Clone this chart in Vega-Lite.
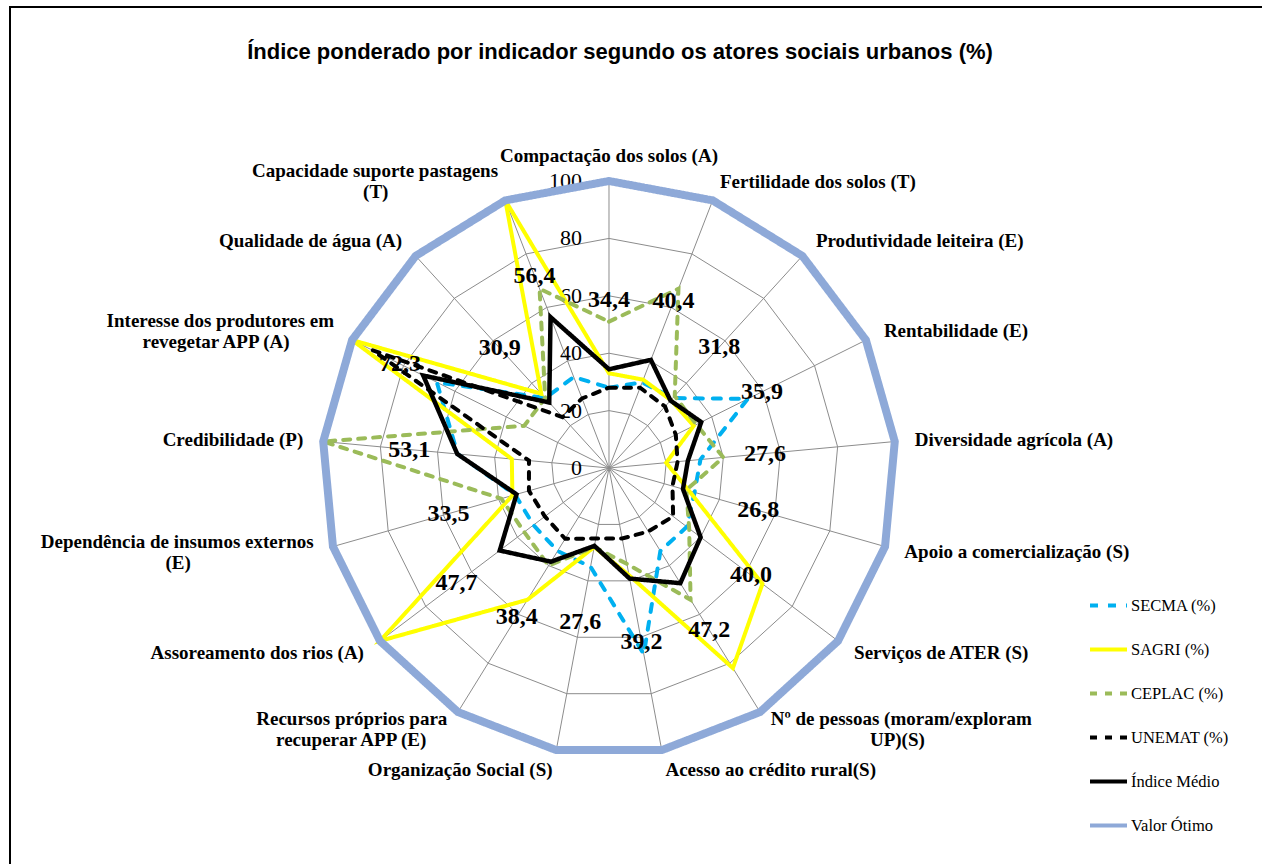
{
"$schema":"https://vega.github.io/schema/vega-lite/v6.json",
"width":1256,"height":861,
"autosize":{"type":"none"},
"padding":{"left":10,"top":7,"right":-4,"bottom":-4},
"background":"#ffffff",
"config":{"view":{"stroke":"#000000","strokeWidth":2}},
"title":{"text":"Índice ponderado por indicador segundo os atores sociais urbanos (%)","font":"Liberation Sans","fontSize":22,"fontWeight":"bold","color":"#000000","anchor":"middle","frame":"group","offset":0,"baseline":"alphabetic","dx":-18,"dy":74},
"datasets":{
"cats":[
{"i":0,"cat1":"Compactação dos solos (A)","cat2":"","SECMA":28,"SAGRI":33,"CEPLAC":51,"UNEMAT":28,"Medio":34.4,"Otimo":100},
{"i":1,"cat1":"Fertilidade dos solos (T)","cat2":"","SECMA":32,"SAGRI":33,"CEPLAC":67,"UNEMAT":30,"Medio":40.4,"Otimo":100},
{"i":2,"cat1":"Produtividade leiteira (E)","cat2":"","SECMA":33,"SAGRI":32,"CEPLAC":34,"UNEMAT":29,"Medio":31.8,"Otimo":100},
{"i":3,"cat1":"Rentabilidade (E)","cat2":"","SECMA":54,"SAGRI":33,"CEPLAC":34,"UNEMAT":26,"Medio":35.9,"Otimo":100},
{"i":4,"cat1":"Diversidade agrícola (A)","cat2":"","SECMA":32,"SAGRI":20,"CEPLAC":40,"UNEMAT":24,"Medio":27.6,"Otimo":100},
{"i":5,"cat1":"Apoio a comercialização (S)","cat2":"","SECMA":31,"SAGRI":29,"CEPLAC":28,"UNEMAT":23,"Medio":26.8,"Otimo":100},
{"i":6,"cat1":"Serviços de ATER (S)","cat2":"","SECMA":34,"SAGRI":67,"CEPLAC":35,"UNEMAT":28,"Medio":40.0,"Otimo":100},
{"i":7,"cat1":"Nº de pessoas (moram/exploram","cat2":"UP)(S)","SECMA":34,"SAGRI":82,"CEPLAC":54,"UNEMAT":26,"Medio":47.2,"Otimo":100},
{"i":8,"cat1":"Acesso ao crédito rural(S)","cat2":"","SECMA":66,"SAGRI":38,"CEPLAC":34,"UNEMAT":25,"Medio":39.2,"Otimo":100},
{"i":9,"cat1":"Organização Social (S)","cat2":"","SECMA":35,"SAGRI":28,"CEPLAC":28,"UNEMAT":25,"Medio":27.6,"Otimo":100},
{"i":10,"cat1":"Recursos próprios para","cat2":"recuperar APP (E)","SECMA":34,"SAGRI":54,"CEPLAC":40,"UNEMAT":29,"Medio":38.4,"Otimo":100},
{"i":11,"cat1":"Assoreamento dos rios (A)","cat2":"","SECMA":33,"SAGRI":100,"CEPLAC":37,"UNEMAT":28,"Medio":47.7,"Otimo":100},
{"i":12,"cat1":"Dependência de insumos externos","cat2":"(E)","SECMA":34,"SAGRI":35,"CEPLAC":39,"UNEMAT":29,"Medio":33.5,"Otimo":100},
{"i":13,"cat1":"Credibilidade (P)","cat2":"","SECMA":53,"SAGRI":34,"CEPLAC":100,"UNEMAT":28,"Medio":53.1,"Otimo":100},
{"i":14,"cat1":"Interesse dos produtores em","cat2":"revegetar APP (A)","SECMA":67,"SAGRI":100,"CEPLAC":33,"UNEMAT":92,"Medio":72.3,"Otimo":100},
{"i":15,"cat1":"Qualidade de água (A)","cat2":"","SECMA":33,"SAGRI":35,"CEPLAC":33,"UNEMAT":24,"Medio":30.9,"Otimo":100},
{"i":16,"cat1":"Capacidade suporte pastagens","cat2":"(T)","SECMA":34,"SAGRI":100,"CEPLAC":67,"UNEMAT":26,"Medio":56.4,"Otimo":100}
],
"ticks":[{"v":0},{"v":20},{"v":40},{"v":60},{"v":80},{"v":100}]
},
"encoding":{
"x":{"field":"px","type":"quantitative","scale":{"domain":[-208.71,228.92],"nice":false,"zero":false},"axis":null},
"y":{"field":"py","type":"quantitative","scale":{"domain":[-139.37,160.63],"nice":false,"zero":false},"axis":null}
},
"layer":[
{"data":{"name":"cats"},
 "transform":[{"calculate":"[20,40,60,80,100]","as":"lv"},{"flatten":["lv"]},{"calculate":"datum.i*2*PI/17","as":"th"},{"calculate":"datum.lv*sin(datum.th)","as":"px"},{"calculate":"datum.lv*cos(datum.th)","as":"py"}],
 "mark":{"type":"line","interpolate":"linear-closed","color":"#8C8C8C","strokeWidth":1},
 "encoding":{"detail":{"field":"lv","type":"nominal"},"order":{"field":"i","type":"quantitative"}}},
{"data":{"name":"cats"},
 "transform":[{"calculate":"datum.i*2*PI/17","as":"th"},{"calculate":"100*sin(datum.th)","as":"px"},{"calculate":"100*cos(datum.th)","as":"py"}],
 "mark":{"type":"rule","color":"#8C8C8C","strokeWidth":1},
 "encoding":{"x2":{"datum":0},"y2":{"datum":0}}},
{"data":{"name":"ticks"},
 "transform":[{"calculate":"0","as":"px"},{"calculate":"datum.v","as":"py"}],
 "mark":{"type":"text","align":"right","baseline":"middle","dx":-27,"font":"Liberation Serif","fontSize":22,"color":"#000000"},
 "encoding":{"text":{"field":"v","type":"quantitative"}}},
{"data":{"name":"cats"},
 "transform":[{"fold":["SECMA","SAGRI","CEPLAC","UNEMAT"],"as":["serie","v"]},{"calculate":"datum.i*2*PI/17","as":"th"},{"calculate":"datum.v*sin(datum.th)","as":"px"},{"calculate":"datum.v*cos(datum.th)","as":"py"}],
 "mark":{"type":"line","interpolate":"linear-closed","strokeWidth":4,"strokeCap":"round"},
 "encoding":{
  "color":{"field":"serie","type":"nominal","scale":{"domain":["SECMA","SAGRI","CEPLAC","UNEMAT","Medio","Otimo"],"range":["#00B0F0","#FFFF00","#9BBB59","#000000","#000000","#8EA9D8"]},
   "legend":{"title":null,"orient":"none","legendX":1078,"legendY":578,"symbolType":"stroke","symbolSize":1369,"symbolStrokeWidth":4,"labelFont":"Liberation Serif","labelFontSize":16.5,"labelColor":"#000000","labelOffset":2,"rowPadding":15,"padding":0,"labelLimit":300,"labelExpr":"datum.label == 'Medio' ? 'Índice Médio' : datum.label == 'Otimo' ? 'Valor Ótimo' : datum.label + ' (%)'"}},
  "strokeDash":{"field":"serie","type":"nominal","scale":{"domain":["SECMA","SAGRI","CEPLAC","UNEMAT","Medio","Otimo"],"range":[[8,10],[1,0],[7,8],[7,8],[1,0],[1,0]]},
   "legend":{"title":null,"orient":"none","legendX":1078,"legendY":578,"symbolType":"stroke","symbolSize":1369,"symbolStrokeWidth":4,"labelFont":"Liberation Serif","labelFontSize":16.5,"labelColor":"#000000","labelOffset":2,"rowPadding":15,"padding":0,"labelLimit":300,"labelExpr":"datum.label == 'Medio' ? 'Índice Médio' : datum.label == 'Otimo' ? 'Valor Ótimo' : datum.label + ' (%)'"}},
  "order":{"field":"i","type":"quantitative"}}},
{"data":{"name":"cats"},
 "transform":[{"fold":["Medio"],"as":["serie","v"]},{"calculate":"datum.i*2*PI/17","as":"th"},{"calculate":"datum.v*sin(datum.th)","as":"px"},{"calculate":"datum.v*cos(datum.th)","as":"py"}],
 "mark":{"type":"line","interpolate":"linear-closed","strokeWidth":4.5},
 "encoding":{
  "color":{"field":"serie","type":"nominal"},
  "strokeDash":{"field":"serie","type":"nominal"},
  "order":{"field":"i","type":"quantitative"}}},
{"data":{"name":"cats"},
 "transform":[{"fold":["Otimo"],"as":["serie","v"]},{"calculate":"datum.i*2*PI/17","as":"th"},{"calculate":"datum.v*sin(datum.th)","as":"px"},{"calculate":"datum.v*cos(datum.th)","as":"py"}],
 "mark":{"type":"line","interpolate":"linear-closed","strokeWidth":8},
 "encoding":{
  "color":{"field":"serie","type":"nominal"},
  "strokeDash":{"field":"serie","type":"nominal"},
  "order":{"field":"i","type":"quantitative"}}},
{"data":{"name":"cats"},
 "transform":[{"calculate":"datum.i*2*PI/17","as":"th"},{"calculate":"0.6*datum.Medio + 38","as":"lr"},{"calculate":"datum.lr*sin(datum.th)","as":"px"},{"calculate":"datum.lr*cos(datum.th)","as":"py"},{"calculate":"replace(format(datum.Medio,'.1f'),'.',',')","as":"lab"}],
 "mark":{"type":"text","align":"center","baseline":"middle","font":"Liberation Serif","fontSize":24,"fontWeight":"bold","color":"#000000"},
 "encoding":{"text":{"field":"lab","type":"nominal"}}},
{"data":{"name":"cats"},
 "transform":[{"calculate":"datum.i*2*PI/17","as":"th"},{"calculate":"sin(datum.th) > 0.1 ? 1 : (sin(datum.th) < -0.1 ? -1 : 0)","as":"side"},{"filter":"datum.side == 1"},{"calculate":"107*sin(datum.th)","as":"px"},{"calculate":"107*cos(datum.th) + (datum.cat2 != '' ? 10.5/2.87 : 0)","as":"py"}],
 "mark":{"type":"text","align":"left","baseline":"middle","font":"Liberation Serif","fontSize":19,"fontWeight":"bold","color":"#000000"},
 "encoding":{"text":{"field":"cat1","type":"nominal"}}},
{"data":{"name":"cats"},
 "transform":[{"calculate":"datum.i*2*PI/17","as":"th"},{"calculate":"sin(datum.th) > 0.1 ? 1 : (sin(datum.th) < -0.1 ? -1 : 0)","as":"side"},{"filter":"datum.side == -1"},{"calculate":"107*sin(datum.th)","as":"px"},{"calculate":"107*cos(datum.th) + (datum.cat2 != '' ? 10.5/2.87 : 0)","as":"py"}],
 "mark":{"type":"text","align":"right","baseline":"middle","font":"Liberation Serif","fontSize":19,"fontWeight":"bold","color":"#000000"},
 "encoding":{"text":{"field":"cat1","type":"nominal"}}},
{"data":{"name":"cats"},
 "transform":[{"calculate":"datum.i*2*PI/17","as":"th"},{"calculate":"sin(datum.th) > 0.1 ? 1 : (sin(datum.th) < -0.1 ? -1 : 0)","as":"side"},{"filter":"datum.side == 0"},{"calculate":"107*sin(datum.th)","as":"px"},{"calculate":"107*cos(datum.th)","as":"py"}],
 "mark":{"type":"text","align":"center","baseline":"middle","dy":-5,"font":"Liberation Serif","fontSize":19,"fontWeight":"bold","color":"#000000"},
 "encoding":{"text":{"field":"cat1","type":"nominal"}}},
{"data":{"name":"cats"},
 "transform":[{"filter":"datum.cat2 != ''"},{"calculate":"datum.i*2*PI/17","as":"th"},{"calculate":"sin(datum.th) > 0.1 ? 1 : (sin(datum.th) < -0.1 ? -1 : 0)","as":"side"},{"calculate":"107*sin(datum.th) + datum.side*length(datum.cat1)*8.74/2/2.87","as":"px"},{"calculate":"107*cos(datum.th) - 10.5/2.87","as":"py"}],
 "mark":{"type":"text","align":"center","baseline":"middle","font":"Liberation Serif","fontSize":19,"fontWeight":"bold","color":"#000000"},
 "encoding":{"text":{"field":"cat2","type":"nominal"}}}
]
}
